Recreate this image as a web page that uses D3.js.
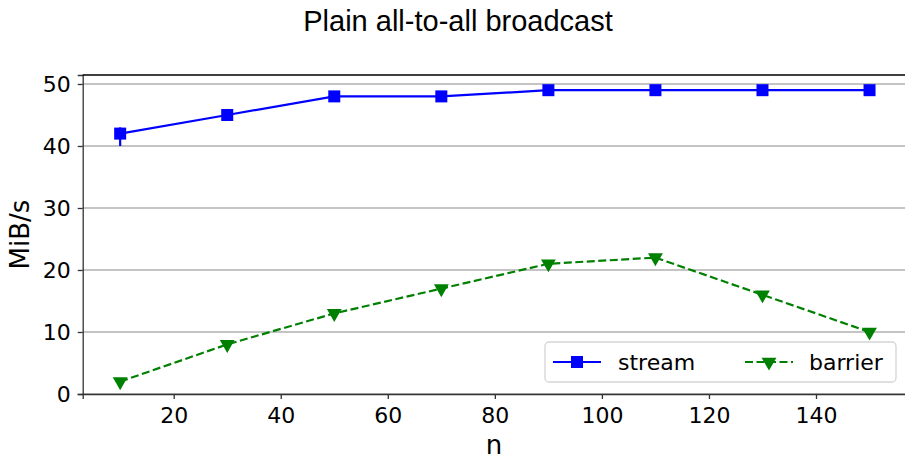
<!DOCTYPE html>
<html>
<head>
<meta charset="utf-8">
<script src="https://cdn.jsdelivr.net/npm/d3@7"></script>
<style>
  body { margin: 0; background: #fff; }
  svg { display: block; overflow: hidden; }
  .tick text { font-family: "DejaVu Sans", sans-serif; font-size: 22px; fill: #000; }
  .axis path.domain { stroke: #333; stroke-width: 1.3; }
  .axis .tick line { stroke: #333; stroke-width: 1.3; }
  .grid line { stroke: #b0b0b0; stroke-width: 1.3; }
  .axis-label { font-family: "DejaVu Sans", sans-serif; font-size: 26px; fill: #000; }
  .title { font-family: "Liberation Sans", Arial, sans-serif; font-size: 29px; fill: #000; }
  .legend-text { font-family: "DejaVu Sans", sans-serif; font-size: 22px; fill: #000; }
</style>
</head>
<body>
<svg id="chart" width="905" height="456"></svg>
<script>
const nValues = [10, 30, 50, 70, 90, 110, 130, 150];
const streamValues = [42, 45, 48, 48, 49, 49, 49, 49];
const streamErrLow = [40, 45, 48, 48, 49, 49, 49, 49];
const streamErrHigh = [43, 45, 48, 48, 49, 49, 49, 49];
const barrierValues = [2, 8, 13, 17, 21, 22, 16, 10];
const xTicks = [20, 40, 60, 80, 100, 120, 140];
const yTicks = [0, 10, 20, 30, 40, 50];
const seriesNames = ["stream", "barrier"];

const svgEl = d3.select("#chart");
const margin = { top: 75, left: 82.7 };
const innerW = 907 - margin.left;
const innerH = 394 - margin.top;

const g = svgEl.append("g")
  .attr("transform", `translate(${margin.left},${margin.top})`);

/* ---------- Scales ---------- */
const xScale = d3.scaleLinear().domain([3, 157]).range([0, innerW]);
const yScale = d3.scaleLinear().domain([0, 51.45]).range([innerH, 0]);

/* ---------- Grid ---------- */
g.append("g").attr("class", "grid")
  .selectAll("line").data(yTicks).join("line")
  .attr("x1", 0).attr("x2", innerW)
  .attr("y1", d => yScale(d)).attr("y2", d => yScale(d));

/* ---------- Axes ---------- */
const xAxis = d3.axisBottom(xScale).tickValues(xTicks).tickSizeOuter(0).tickSize(5).tickPadding(8);
const yAxis = d3.axisLeft(yScale).tickValues(yTicks).tickSizeOuter(0).tickSize(5).tickPadding(7);

g.append("g").attr("class", "axis x-axis")
  .attr("transform", `translate(0,${innerH})`).call(xAxis);
g.append("g").attr("class", "axis y-axis").call(yAxis);
g.selectAll(".y-axis .tick text").attr("dy", "0.36em");

// top and right spines
g.append("line").attr("x1", 0).attr("x2", innerW).attr("y1", 0).attr("y2", 0)
  .attr("stroke", "#000").attr("stroke-width", 1.3);
g.append("line").attr("x1", innerW).attr("x2", innerW).attr("y1", 0).attr("y2", innerH)
  .attr("stroke", "#000").attr("stroke-width", 1.3);

/* ---------- Labels ---------- */
svgEl.append("text").attr("class", "title")
  .attr("x", 458).attr("y", 31).attr("text-anchor", "middle")
  .text("Plain all-to-all broadcast");

svgEl.append("text").attr("class", "axis-label")
  .attr("x", 494).attr("y", 454).attr("text-anchor", "middle")
  .text("n");

svgEl.append("text").attr("class", "axis-label")
  .attr("transform", "rotate(-90)").attr("x", -234.5).attr("y", 29)
  .attr("text-anchor", "middle").text("MiB/s");

/* ---------- Series ---------- */
const streamData = nValues.map((n, i) => ({ n, v: streamValues[i], lo: streamErrLow[i], hi: streamErrHigh[i] }));
const barrierData = nValues.map((n, i) => ({ n, v: barrierValues[i] }));
const lineGen = d3.line().x(d => xScale(d.n)).y(d => yScale(d.v));

// error bars
g.append("g").selectAll("line").data(streamData).join("line")
  .attr("x1", d => xScale(d.n)).attr("x2", d => xScale(d.n))
  .attr("y1", d => yScale(d.lo)).attr("y2", d => yScale(d.hi))
  .attr("stroke", "blue").attr("stroke-width", 2.2);

g.append("path").datum(streamData)
  .attr("d", lineGen).attr("fill", "none")
  .attr("stroke", "blue").attr("stroke-width", 2.2);

g.append("g").selectAll("rect").data(streamData).join("rect")
  .attr("x", d => xScale(d.n) - 6).attr("y", d => yScale(d.v) - 6)
  .attr("width", 12).attr("height", 12).attr("fill", "blue");

g.append("path").datum(barrierData)
  .attr("d", lineGen).attr("fill", "none")
  .attr("stroke", "green").attr("stroke-width", 2.2)
  .attr("stroke-dasharray", "8,3.5");

const tri = d3.symbol().type(d3.symbolTriangle).size(95);
g.append("g").selectAll("path").data(barrierData).join("path")
  .attr("d", tri)
  .attr("transform", d => `translate(${xScale(d.n)},${yScale(d.v)}) rotate(180)`)
  .attr("fill", "green");

/* ---------- Legend ---------- */
const legend = svgEl.append("g").attr("transform", "translate(545,342)");
legend.append("rect").attr("width", 351).attr("height", 40).attr("rx", 4)
  .attr("fill", "#fff").attr("fill-opacity", 0.8)
  .attr("stroke", "#d5d5d5").attr("stroke-width", 1.3);

const legY = 20;
legend.append("line").attr("x1", 8).attr("x2", 56).attr("y1", legY).attr("y2", legY)
  .attr("stroke", "blue").attr("stroke-width", 2.2);
legend.append("rect").attr("x", 26).attr("y", legY - 6).attr("width", 12).attr("height", 12)
  .attr("fill", "blue");
legend.append("text").attr("class", "legend-text").attr("x", 73).attr("y", legY + 8)
  .text(seriesNames[0]);

legend.append("line").attr("x1", 200).attr("x2", 248).attr("y1", legY).attr("y2", legY)
  .attr("stroke", "green").attr("stroke-width", 2.2).attr("stroke-dasharray", "8,3.5");
legend.append("path").attr("d", tri)
  .attr("transform", `translate(224,${legY}) rotate(180)`).attr("fill", "green");
legend.append("text").attr("class", "legend-text").attr("x", 264).attr("y", legY + 8)
  .text(seriesNames[1]);
</script>
</body>
</html>
